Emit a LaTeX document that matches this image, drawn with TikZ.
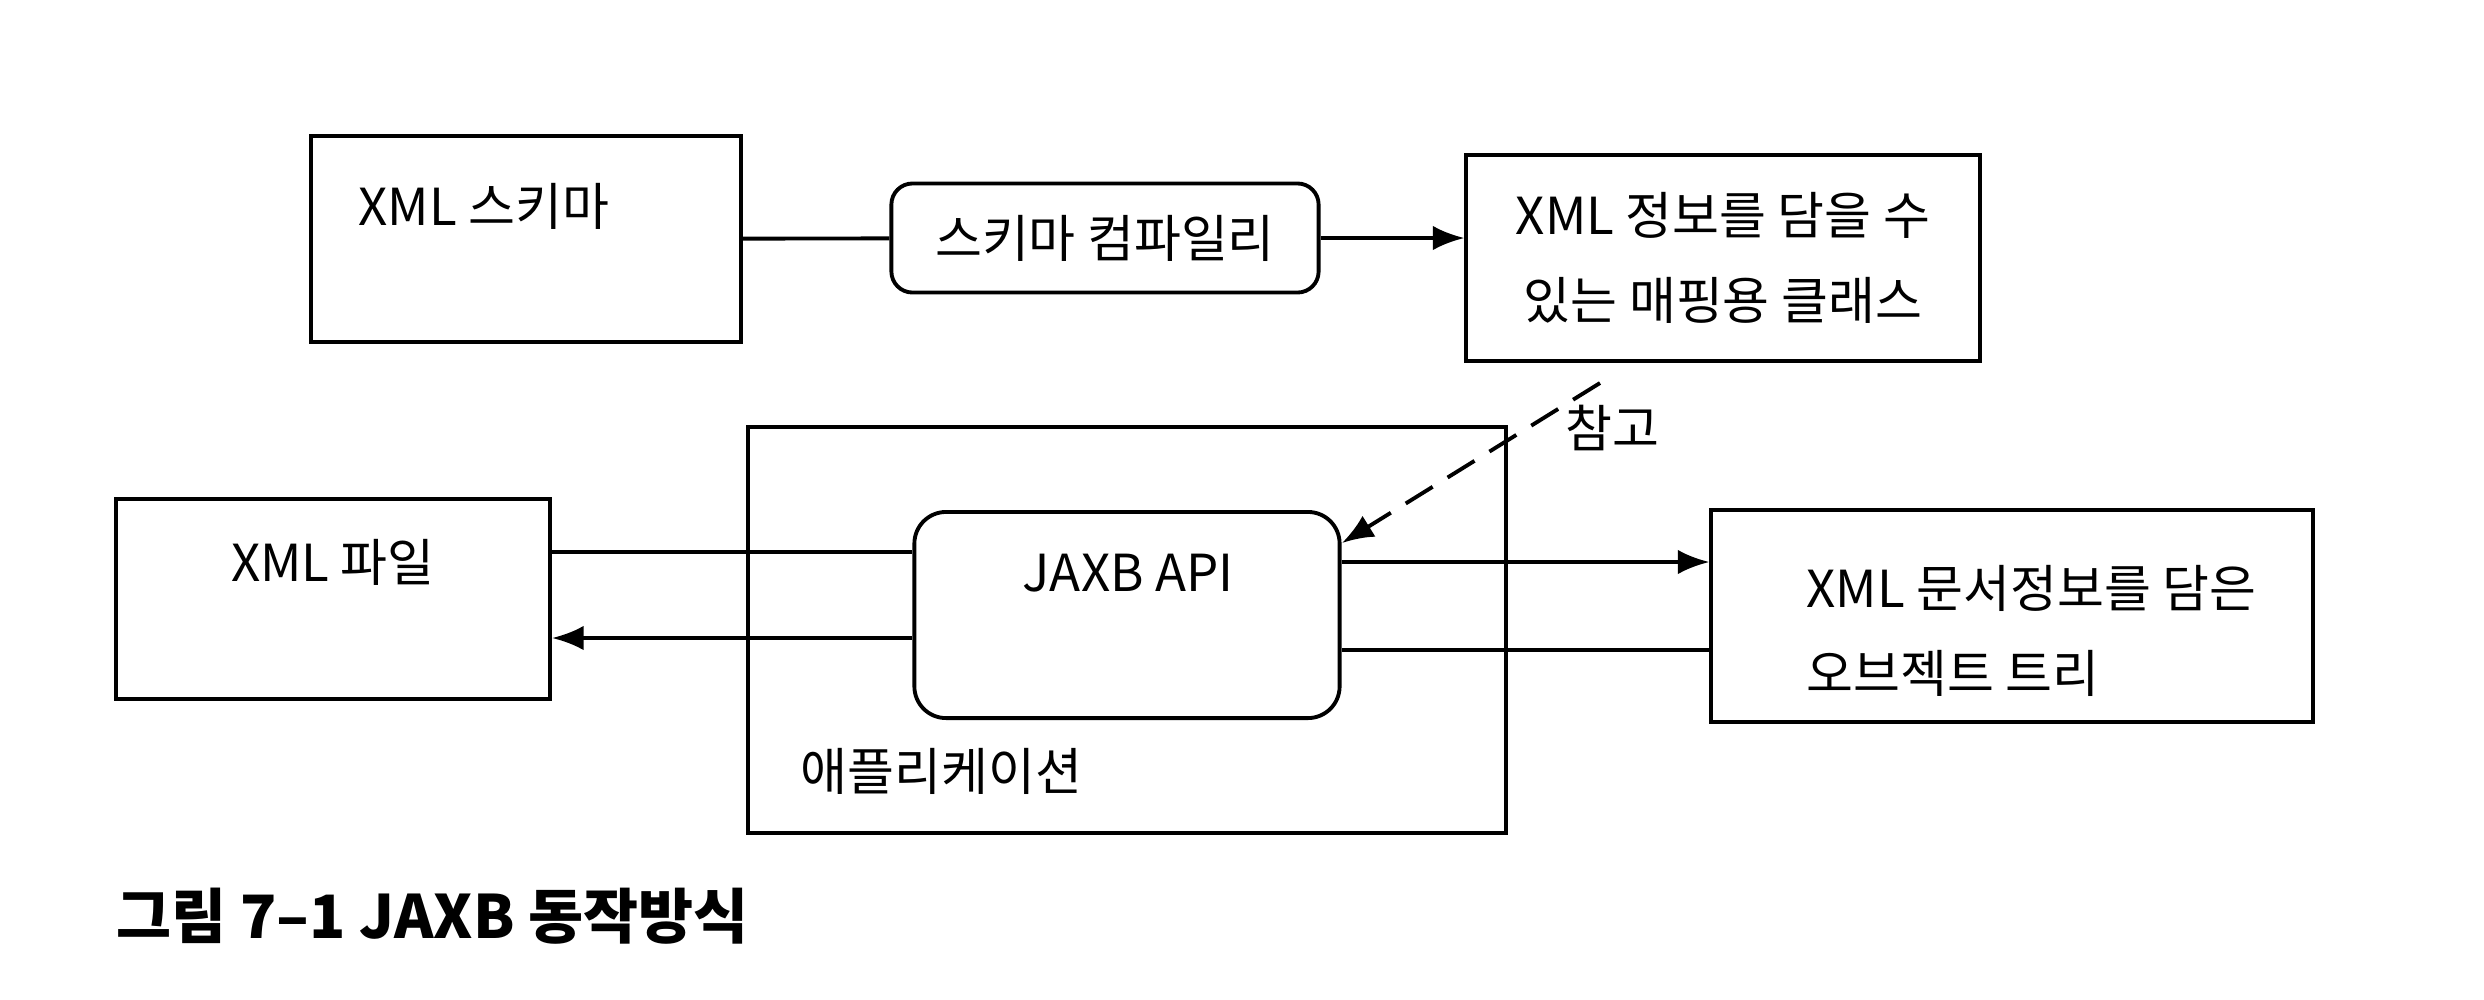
\documentclass[tikz,border=0pt]{standalone}
\usepackage{fontspec}
\setmainfont{Noto Sans CJK KR}
\usetikzlibrary{calc, positioning}
\usetikzlibrary{arrows.meta}

\tikzset{
  box/.style={draw, line width=1.1pt, rectangle, inner sep=0pt},
  rbox/.style={box, rounded corners=6pt},
  txt/.style={font=\fontsize{14.5}{24}\selectfont, inner sep=0pt},
  conn/.style={line width=1.1pt},
  arr/.style={conn, -{Latex[length=9pt,width=7pt]}},
}

\begin{document}
\begin{tikzpicture}[x=0.01cm,y=-0.01cm]
\useasboundingbox (0,0) rectangle (2484,999);

% Upper row: schema, compiler, mapping classes
\node[box, minimum width=4.29cm, minimum height=2.06cm] (schema) at (526,239) {};
\node[rbox, minimum width=4.27cm, minimum height=1.09cm, txt] (compiler) at (1105,238) {스키마 컴파일리};
\node[box, minimum width=5.13cm, minimum height=2.06cm, txt, align=center] (class) at (1723,258)
    {XML 정보를 담을 수\\있는 매핑용 클래스};
\node[txt, anchor=west] (schemalbl) at (358,206) {XML 스키마};

% Lower row: file, application, object tree
\node[box, minimum width=7.58cm, minimum height=4.05cm] (app) at (1127,630) {};
\node[box, minimum width=4.34cm, minimum height=2.00cm, fill=white] (xmlfile) at (333,599) {};
\node[rbox, rounded corners=9pt, minimum width=4.25cm, minimum height=2.06cm, fill=white] (jaxb) at (1127,615) {};
\node[box, minimum width=6.01cm, minimum height=2.12cm] (objtree) at (2012,616) {};
\node[txt] (filelbl) at (333,562) {XML 파일};
\node[txt] (jaxblbl) at (1128,573) {JAXB API};
\node[txt, anchor=west] (applbl) at (800,771) {애플리케이션};
\node[txt, anchor=west, align=left] (treelbl) at (1806,631) {XML 문서정보를 담은\\오브젝트 트리};
\node[txt] (reflbl) at (1612,428) {참고};

% Connectors
\coordinate (up) at (0,552);
\coordinate (dn) at (0,638);
\coordinate (rup) at (0,562);
\coordinate (rdn) at (0,650);
\coordinate (refstart) at (1600,383);
\coordinate (reftip) at (1342,543);

\draw[conn] (schema) -- (compiler);
\draw[arr] (compiler.east) -- (compiler.east -| class.west);
\draw[conn] (xmlfile.east |- up) -- (jaxb.west |- up);
\draw[arr] (jaxb.west |- dn) -- (xmlfile.east |- dn);
\draw[arr] (jaxb.east |- rup) -- (objtree.west |- rup);
\draw[conn] (objtree.west |- rdn) -- (jaxb.east |- rdn);
\draw[arr, dash pattern=on 9pt off 5pt] (refstart) -- (reftip);

% Caption
\node[anchor=west, inner sep=0pt, font=\fontsize{17}{20}\selectfont\bfseries] (caption) at (116,916)
    {그림 7--1 JAXB 동작방식};
\end{tikzpicture}
\end{document}
